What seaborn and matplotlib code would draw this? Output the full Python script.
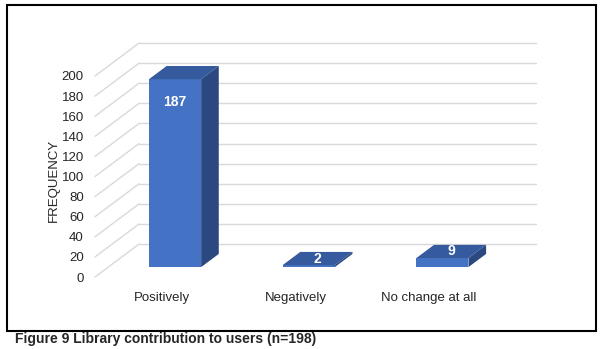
import numpy as np
import seaborn as sns
import matplotlib.pyplot as plt
import pandas as pd
from matplotlib.patches import Polygon, Rectangle

# data
categories = ["Positively", "Negatively", "No change at all"]
frequency = [187, 2, 9]
yticks = list(range(0, 201, 20))
caption = "Figure 9 Library contribution to users (n=198)"

df = pd.DataFrame({"category": categories, "frequency": frequency})

sns.set_style("white")
plt.rcParams['font.family'] = ['Liberation Sans', 'DejaVu Sans']

W, H = 604, 349
fig = plt.figure(figsize=(W / 100, H / 100), dpi=100)
ax = fig.add_axes([95 / W, 72 / H, 401 / W, 201 / H])

# fake 3d: shear for depth (fraction 0 = front, 1 = back wall)
DX, DY = 0.33, 32.8
f0, f1 = 0.30, 0.70
front_col, top_col, side_col = "#4472C4", "#365A9E", "#2C4880"
grid_col = "#D9D9D9"

# back wall + side wall gridlines
for v in yticks:
    ax.plot([-0.5 + DX, 2.47 + DX], [v + DY, v + DY], color=grid_col, lw=1,
            clip_on=False, zorder=0)
    ax.plot([-0.5, -0.5 + DX], [v, v + DY], color=grid_col, lw=1,
            clip_on=False, zorder=0)

sns.barplot(data=df, x="category", y="frequency", color=front_col,
            saturation=1, width=0.39, ax=ax, zorder=3)

for p, val in zip(ax.patches, frequency):
    p.set_x(p.get_x() + f0 * DX)
    p.set_y(f0 * DY)
    p.set_clip_on(False)
    p.set_edgecolor("none")
    x0, w = p.get_x(), p.get_width()
    y0, y1 = f0 * DY, f0 * DY + val
    ddx, ddy = (f1 - f0) * DX, (f1 - f0) * DY
    top = Polygon([(x0, y1), (x0 + w, y1), (x0 + w + ddx, y1 + ddy), (x0 + ddx, y1 + ddy)],
                  closed=True, fc=top_col, ec="none", clip_on=False, zorder=3)
    side = Polygon([(x0 + w, y0), (x0 + w + ddx, y0 + ddy), (x0 + w + ddx, y1 + ddy), (x0 + w, y1)],
                   closed=True, fc=side_col, ec="none", clip_on=False, zorder=3)
    ax.add_patch(top)
    ax.add_patch(side)
    if val > 30:
        ax.text(x0 + w / 2, y1 - 23, str(val), color="white", ha="center",
                va="center", fontsize=10, fontweight="bold", zorder=5)
    else:
        ax.text(x0 + w / 2 + ddx / 2, y1 + ddy / 2, str(val), color="white",
                ha="center", va="center", fontsize=10, fontweight="bold", zorder=5)

ax.set_xlim(-0.5, 2.5)
ax.set_ylim(0, 200)
ax.set_yticks(yticks)
ax.tick_params(axis="y", length=0, pad=8, labelsize=9.5)
ax.tick_params(axis="x", length=0, pad=11, labelsize=9.5)
ax.set_xlabel("")
ax.set_ylabel("FREQUENCY", fontsize=9.5)
ax.yaxis.set_label_coords(-0.087, 0.48)
sns.despine(ax=ax, left=True, bottom=True)

# outer frame and caption
fig.patches.append(Rectangle((7 / W, (H - 331) / H), 589 / W, 326 / H,
                             transform=fig.transFigure, fill=False,
                             ec="black", lw=1.5))
fig.text(15 / W, (H - 339) / H, caption, fontsize=10, fontweight="bold",
         va="center", ha="left")

fig.savefig("out.png", dpi=100)
